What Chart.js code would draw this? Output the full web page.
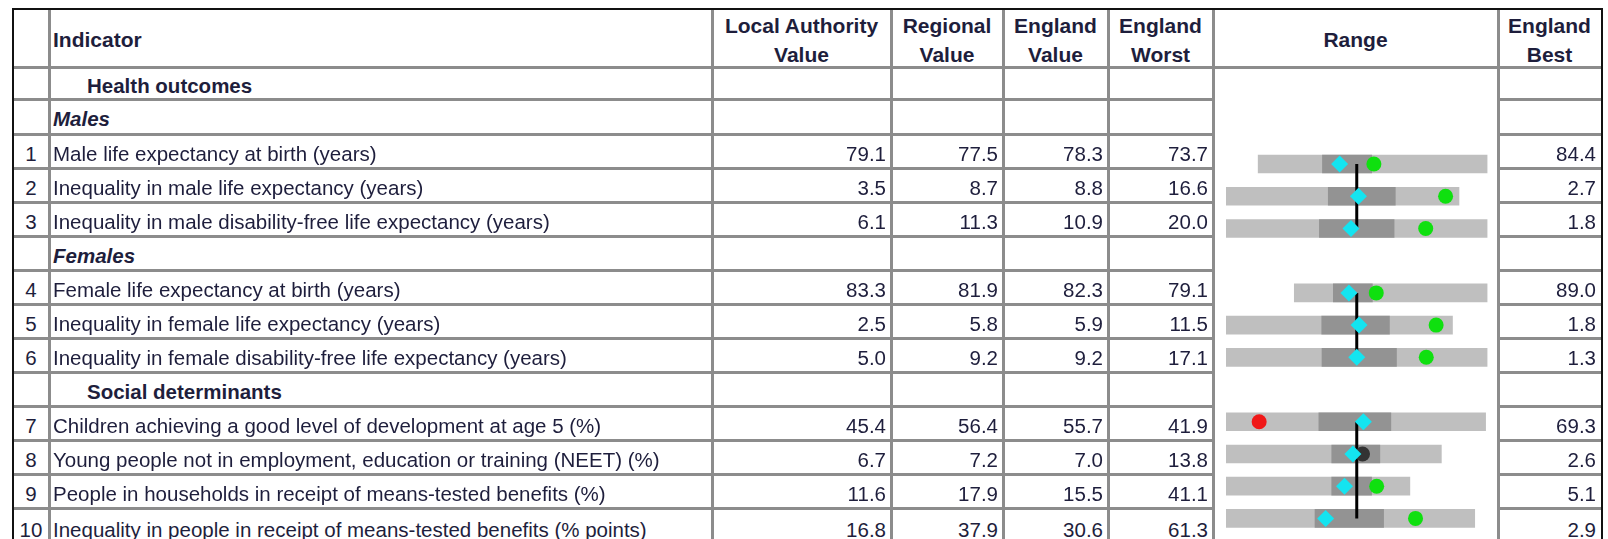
<!DOCTYPE html>
<html lang="en">
<head>
<meta charset="utf-8">
<title>Spine chart</title>
<script src="https://cdn.jsdelivr.net/npm/chart.js"></script>
<style>
  body { margin: 0; width: 1608px; height: 539px; overflow: hidden; background: #fff; position: relative;
         font-family: "Liberation Sans", Arial, sans-serif; color: #1e1e3c; }
  .ln { position: absolute; background: #8c8c8c; }
  .bd { position: absolute; background: #111; }
  .c { position: absolute; display: flex; align-items: center; white-space: nowrap; font-size: 20.5px;
       box-sizing: border-box; padding-top: 4px; }
  .h { font-weight: bold; font-size: 21px; line-height: 29px; text-align: center; justify-content: center; padding-top: 2px; }
  #range { position: absolute; left: 1216px; top: 75px; }
</style>
</head>
<body>

<canvas id="range" width="280" height="468"></canvas>

<script>
// indicators, in table order
const indicators = [
  'Male life expectancy at birth (years)',
  'Inequality in male life expectancy (years)',
  'Inequality in male disability-free life expectancy (years)',
  'Female life expectancy at birth (years)',
  'Inequality in female life expectancy (years)',
  'Inequality in female disability-free life expectancy (years)',
  'Children achieving a good level of development at age 5 (%)',
  'Young people not in employment, education or training (NEET) (%)',
  'People in households in receipt of means-tested benefits (%)',
  'Inequality in people in receipt of means-tested benefits (% points)'
];
const laValue       = [79.1, 3.5, 6.1, 83.3, 2.5, 5.0, 45.4, 6.7, 11.6, 16.8];
const regionalValue = [77.5, 8.7, 11.3, 81.9, 5.8, 9.2, 56.4, 7.2, 17.9, 37.9];
const englandValue  = [78.3, 8.8, 10.9, 82.3, 5.9, 9.2, 55.7, 7.0, 15.5, 30.6];
const englandWorst  = [73.7, 16.6, 20.0, 79.1, 11.5, 17.1, 41.9, 13.8, 41.1, 61.3];
const englandBest   = [84.4, 2.7, 1.8, 89.0, 1.8, 1.3, 69.3, 2.6, 5.1, 2.9];
// 25th / 75th percentile (dark band)
const quartileWorse  = [76.7, 10.5, 13.5, 81.1, 7.4, 11.3, 51.7, 8.3, 20.4, 40.4];
const quartileBetter = [79.0, 6.5, 8.3, 83.1, 4.5, 6.8, 59.3, 5.8, 12.6, 24.3];
const significance   = ['better', 'better', 'better', 'better', 'better', 'better', 'worse', 'similar', 'better', 'better'];

// table rows: section headings, sub headings and indicator slots
const sectionRows = { 0: 'Health outcomes', 9: 'Social determinants' };
const subRows = { 1: 'Males', 5: 'Females' };
const indicatorSlots = [2, 3, 4, 6, 7, 8, 10, 11, 12, 13];
const spineGroups = [[0, 2], [3, 5], [6, 9]];

const headers = ['', 'Indicator', 'Local Authority<br>Value', 'Regional<br>Value', 'England<br>Value',
                 'England<br>Worst', 'Range', 'England<br>Best'];

// ---- table layout ----
const colX = [13, 49, 712, 891, 1003, 1108, 1213, 1498, 1601];
const rowY = [9, 67, 99, 134, 168, 202, 236, 270, 304, 338, 372, 406, 440, 474, 508, 546];

function box(cls, l, t, w, h) {
  const d = document.createElement('div');
  d.className = cls;
  d.style.left = l + 'px'; d.style.top = t + 'px';
  d.style.width = w + 'px'; d.style.height = h + 'px';
  document.body.appendChild(d);
  return d;
}
function cell(ci, y0, y1, html, align, extra) {
  const d = box('c', colX[ci] + 2, y0 + 2, colX[ci + 1] - colX[ci] - 4, y1 - y0 - 3);
  d.innerHTML = html;
  d.style.justifyContent = align === 'right' ? 'flex-end' : align === 'center' ? 'center' : 'flex-start';
  if (extra) Object.assign(d.style, extra);
  return d;
}

// grid
for (let i = 1; i < colX.length - 1; i++) box('ln', colX[i] - 1.5, 9, 3, 530);
box('ln', 13, rowY[1] - 1.5, 1588, 3);
for (let r = 2; r < rowY.length - 1; r++) {
  box('ln', 13, rowY[r] - 1.5, colX[6] - 13, 3);
  box('ln', colX[7], rowY[r] - 1.5, colX[8] - colX[7], 3);
}
box('bd', 12, 8, 1591, 2);
box('bd', 12, 8, 2, 531);
box('bd', 1601, 8, 2, 531);

// header
headers.forEach((h, i) => {
  if (!h) return;
  const d = cell(i, rowY[0], rowY[1], h, i === 1 ? 'left' : 'center', { paddingLeft: i === 1 ? '2px' : '0' });
  d.classList.add('h');
  if (i === 1) d.style.justifyContent = 'flex-start';
});

// body rows
Object.entries(sectionRows).forEach(([s, t]) => {
  s = +s;
  cell(1, rowY[s + 1], rowY[s + 2], t, 'left', { fontWeight: 'bold', paddingLeft: '36px' });
});
Object.entries(subRows).forEach(([s, t]) => {
  s = +s;
  cell(1, rowY[s + 1], rowY[s + 2], t, 'left', { fontWeight: 'bold', fontStyle: 'italic', paddingLeft: '2px' });
});
const valueCols = [[2, laValue], [3, regionalValue], [4, englandValue], [5, englandWorst], [7, englandBest]];
indicators.forEach((name, i) => {
  const s = indicatorSlots[i];
  const y0 = rowY[s + 1], y1 = rowY[s + 2];
  cell(0, y0, y1, String(i + 1), 'center');
  cell(1, y0, y1, name, 'left', { paddingLeft: '2px' });
  valueCols.forEach(([ci, arr]) => cell(ci, y0, y1, arr[i].toFixed(1), 'right', { paddingRight: '3px' }));
});

// ---- spine chart: England average at 0, worst/best scaled into -1..1 ----
function spinePos(i, v) {
  const avg = englandValue[i];
  const dir = englandBest[i] > englandWorst[i] ? 1 : -1;
  const half = Math.max(Math.abs(englandWorst[i] - avg), Math.abs(englandBest[i] - avg));
  return dir * (v - avg) / half;
}
const sigColour = { better: '#0fe00f', worse: '#f01818', similar: '#333333' };

const datasets = [
  {
    type: 'bar', order: 5, grouped: false, barThickness: 18, backgroundColor: '#bfbfbf',
    data: indicatorSlots.map((s, i) => ({ y: s, x: [spinePos(i, englandWorst[i]), spinePos(i, englandBest[i])] }))
  },
  {
    type: 'bar', order: 4, grouped: false, barThickness: 18, backgroundColor: '#939393',
    data: indicatorSlots.map((s, i) => ({ y: s, x: [spinePos(i, quartileWorse[i]), spinePos(i, quartileBetter[i])] }))
  }
];
spineGroups.forEach(([a, b]) => {
  datasets.push({
    type: 'line', order: 3, borderColor: '#000', borderWidth: 3, pointRadius: 0,
    data: [{ x: 0, y: indicatorSlots[a] }, { x: 0, y: indicatorSlots[b] }]
  });
});
datasets.push({
  type: 'scatter', order: 2, pointStyle: 'circle', pointRadius: 7.5, borderWidth: 0,
  backgroundColor: significance.map(s => sigColour[s]),
  data: indicatorSlots.map((s, i) => ({ x: spinePos(i, laValue[i]), y: s }))
});
datasets.push({
  type: 'scatter', order: 1, pointStyle: 'rectRot', pointRadius: 8.5, borderWidth: 0,
  backgroundColor: '#14e4f0',
  data: indicatorSlots.map((s, i) => ({ x: spinePos(i, regionalValue[i]), y: s }))
});

new Chart(document.getElementById('range').getContext('2d'), {
  type: 'bar',
  data: { datasets },
  options: {
    indexAxis: 'y',
    responsive: false,
    animation: false,
    layout: { padding: { left: 10, right: 8, top: 0, bottom: 0 } },
    scales: {
      x: { type: 'linear', min: -1, max: 1, display: false, offset: false },
      y: { type: 'linear', min: -0.5, max: 13.5, reverse: true, display: false, offset: false }
    },
    plugins: { legend: { display: false }, tooltip: { enabled: false } }
  }
});
</script>
</body>
</html>
